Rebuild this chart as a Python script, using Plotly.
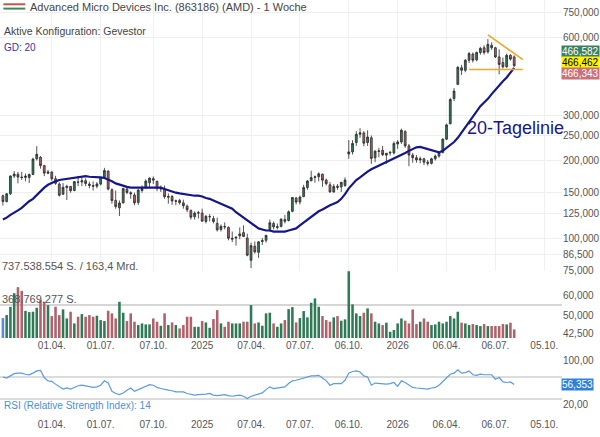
#!/usr/bin/env python3
"""
AMD weekly chart (Gevestor style): candles + 20-week line, volume, RSI
"""

import math
import pandas as pd
import plotly.graph_objects as go

# Daten (Wochenkerzen ab 01.01.2024)
START_WEEK = "2024-01-01"

OPEN = [146.0, 138.6, 148.5, 174.0, 177.0, 172.5, 172.0, 172.0, 176.5, 203.0,
        206.0, 191.0, 178.5, 180.5, 170.0, 162.0, 148.0, 157.0, 158.5, 153.0,
        165.0, 165.0, 167.0, 162.0, 160.0, 159.0, 162.0, 172.0, 182.0, 154.0,
        140.0, 131.0, 137.0, 155.0, 150.0, 147.0, 137.5, 153.0, 157.0, 164.0,
        170.0, 166.0, 155.0, 155.0, 144.0, 145.0, 139.0, 140.0, 137.0, 133.0,
        128.0, 121.0, 125.0, 125.0, 116.0, 121.0, 119.0, 114.0, 108.0, 111.0,
        110.0, 99.0, 100.0, 102.0, 105.0, 100.0, 82.0, 93.0, 88.0, 97.0,
        98.0, 108.0, 114.0, 110.0, 111.0, 118.0, 117.0, 127.0, 143.0, 138.0,
        145.0, 157.0, 167.0, 172.0, 173.0, 177.0, 168.0, 161.0, 151.0, 159.0,
        158.0, 160.0, 212.0, 216.0, 235.0, 253.0, 256.0, 235.0, 245.0, 205.0,
        217.0, 219.0, 210.0, 214.0, 214.0, 232.0, 236.0, 259.0, 228.0, 210.0,
        205.0, 201.0, 203.0, 197.0, 195.0, 203.0, 208.0, 215.0, 242.0, 278.0,
        348.0, 395.0, 458.0, 448.0, 490.0, 518.0, 492.0, 525.0, 548.0, 528.0,
        560.0, 548.0, 505.0, 480.0, 462.0, 512.0, 505.0]
HIGH = [147.5, 149.5, 175.0, 181.9, 180.5, 180.5, 178.0, 178.0, 205.0, 227.3,
        208.0, 192.5, 184.0, 181.5, 174.5, 164.5, 163.5, 161.0, 159.5, 166.5,
        174.0, 172.0, 170.5, 165.5, 166.0, 165.0, 172.5, 187.3, 183.0, 156.0,
        153.0, 140.0, 156.5, 158.0, 152.0, 150.0, 155.0, 160.0, 169.0, 172.0,
        173.5, 167.0, 160.0, 160.0, 149.0, 147.0, 141.0, 142.0, 141.0, 135.0,
        129.0, 127.0, 127.5, 130.0, 123.0, 124.0, 122.0, 120.0, 113.0, 115.0,
        111.0, 106.0, 101.5, 110.0, 112.0, 104.0, 96.0, 97.0, 97.0, 100.0,
        103.0, 118.0, 116.0, 114.0, 119.0, 123.0, 128.0, 144.0, 144.5, 146.0,
        161.0, 168.0, 182.5, 175.0, 180.0, 178.0, 170.0, 165.0, 162.0, 162.0,
        165.0, 172.0, 240.0, 240.0, 260.0, 267.0, 260.0, 262.0, 250.0, 219.0,
        224.0, 228.0, 213.0, 218.0, 237.0, 240.0, 266.0, 262.0, 232.0, 214.0,
        210.0, 207.0, 205.0, 201.0, 205.0, 211.0, 217.0, 244.0, 278.0, 350.0,
        382.0, 465.0, 470.0, 495.0, 528.0, 525.0, 530.0, 552.0, 560.0, 592.0,
        575.0, 552.0, 540.0, 502.0, 520.0, 518.0, 512.0]
LOW = [133.7, 137.5, 147.0, 171.0, 163.0, 168.0, 166.0, 163.5, 175.5, 200.0,
       186.0, 174.0, 177.0, 167.0, 161.0, 145.0, 147.0, 140.5, 150.0, 152.0,
       159.0, 159.0, 159.0, 156.0, 153.0, 156.0, 160.0, 170.0, 153.0, 136.0,
       130.0, 121.8, 136.0, 148.0, 142.0, 134.0, 134.5, 150.0, 155.0, 158.0,
       162.0, 152.0, 151.0, 142.0, 136.0, 134.5, 134.0, 135.0, 130.0, 126.0,
       118.0, 118.0, 119.0, 116.0, 114.0, 116.0, 114.0, 106.0, 106.0, 108.0,
       98.0, 96.5, 93.5, 99.0, 101.0, 85.0, 76.5, 87.0, 83.8, 94.0,
       96.0, 106.0, 108.0, 108.0, 110.0, 114.0, 116.0, 126.0, 135.0, 135.0,
       144.0, 154.0, 166.0, 164.0, 166.0, 158.0, 160.0, 150.0, 150.0, 154.0,
       151.0, 158.0, 203.0, 211.0, 228.0, 245.0, 227.0, 228.0, 194.0, 197.0,
       206.0, 208.0, 194.0, 209.0, 211.0, 222.0, 232.0, 224.0, 190.0, 196.0,
       196.0, 195.0, 192.0, 191.0, 193.0, 200.0, 205.0, 213.0, 240.0, 276.0,
       340.0, 392.0, 430.0, 440.0, 478.0, 480.0, 485.0, 515.0, 515.0, 520.0,
       538.0, 500.0, 432.0, 455.0, 458.0, 488.0, 462.0]
CLOSE = [138.6, 148.5, 174.2, 177.2, 172.5, 171.8, 173.9, 176.5, 202.6, 211.4,
         191.1, 178.7, 180.5, 169.9, 163.1, 146.6, 157.4, 158.7, 152.7, 165.6,
         164.7, 166.9, 162.8, 160.0, 159.0, 162.2, 171.7, 182.8, 155.0, 139.9,
         132.5, 136.8, 155.9, 150.3, 148.6, 137.0, 153.6, 155.7, 166.5, 170.9,
         167.9, 155.9, 155.6, 144.8, 145.0, 139.3, 139.4, 137.2, 133.5, 128.8,
         120.5, 125.0, 125.4, 116.3, 121.5, 121.1, 116.0, 107.6, 111.0, 110.5,
         99.9, 99.7, 100.7, 103.8, 101.5, 85.8, 93.5, 88.4, 96.7, 97.7,
         102.4, 114.7, 110.5, 110.7, 118.5, 116.2, 126.4, 143.8, 137.9, 144.2,
         157.0, 166.5, 171.7, 172.8, 177.5, 167.8, 162.6, 151.1, 158.6, 157.4,
         164.7, 168.0, 216.0, 233.1, 252.9, 256.1, 233.5, 246.8, 203.8, 217.5,
         217.9, 210.8, 213.4, 215.0, 233.0, 236.0, 262.0, 228.0, 210.0, 205.0,
         201.0, 203.0, 197.0, 195.0, 203.0, 208.0, 215.0, 242.0, 275.0, 345.0,
         372.0, 460.0, 448.0, 490.0, 520.0, 490.0, 525.0, 545.0, 525.0, 565.0,
         548.0, 505.0, 472.0, 462.0, 512.0, 495.0, 466.462]

# Volumen in Mio. Stück
VOLUME_M = [220, 253, 344, 495, 561, 520, 300, 286, 290, 334,
            418, 400, 363, 242, 345, 253, 316, 216, 290, 161,
            235, 264, 235, 253, 235, 246, 198, 187, 301, 272,
            216, 400, 279, 187, 272, 180, 143, 161, 150, 150,
            216, 180, 135, 272, 143, 172, 143, 106, 143, 235,
            235, 124, 124, 187, 172, 113, 209, 308, 161, 124,
            180, 161, 161, 161, 180, 180, 363, 161, 172, 135,
            272, 279, 161, 124, 161, 198, 319, 341, 172,
            220, 297, 228, 389, 437, 345, 242, 198, 180, 228,
            242, 191, 206, 737.538554, 371, 272, 242, 279, 327, 272,
            180, 161, 143, 169, 69, 88, 161, 216, 191, 161,
            315, 154, 180, 216, 180, 143, 150, 180, 161, 180,
            242, 216, 290, 169, 161, 143, 154, 143, 132, 154,
            132, 132, 132, 132, 154, 150, 169, 95]

# GD 20
MA20 = [118, 120, 123, 126, 128, 131, 135, 139, 142, 147,
        152, 157, 161, 164, 166, 168, 169, 170, 171, 172,
        173, 174, 174, 173, 173, 172, 172, 171, 169, 166,
        163, 161, 159, 158, 157, 157, 157, 157, 157, 158,
        158, 158, 157, 155, 153, 151, 150, 149, 148, 147,
        147, 146, 146, 145, 143, 142, 140, 138, 136, 134,
        132, 130, 126, 123, 120, 117, 114, 111, 109, 108,
        107, 107, 106, 106, 106, 106, 107, 108, 109, 112,
        115, 118, 121, 124, 127, 129, 132, 134, 136, 138,
        142, 148, 156, 162, 168, 172, 177, 181, 185, 188,
        191, 194, 197, 200, 203, 206, 210, 214, 218, 222,
        225, 226, 224, 221, 219, 217, 215, 218, 224, 230,
        236, 245, 257, 270, 284, 298, 312, 325, 336, 347,
        362, 377, 392, 406, 420, 440, 458]

# RSI 14
RSI14 = [70, 68, 72, 76, 77, 77, 75, 74, 77, 81,
         82, 69, 63, 62, 57, 53, 48, 50, 48, 51,
         54, 55, 54, 52, 51, 52, 55, 63, 59, 44,
         40, 38, 41, 46, 50, 44, 47, 51, 54, 56,
         55, 51, 49, 47, 46, 45, 43, 43, 43, 40,
         38, 37, 38, 38, 39, 40, 37, 36, 37, 38,
         36, 35, 36, 37, 35, 31, 35, 37, 39, 41,
         47, 52, 49, 50, 51, 52, 58, 63, 64, 66,
         68, 70, 72, 72, 73, 68, 63, 55, 58, 58,
         58, 64, 77, 80, 81, 79, 72, 70, 55, 59,
         58, 57, 57, 58, 60, 53, 63, 60, 55, 51,
         50, 49, 48, 48, 50, 51, 55, 62, 68, 75,
         77, 83, 77, 78, 81, 74, 73, 75, 74, 74,
         74, 66, 69, 61, 60, 61, 56.353]

# Trendlinien (Zeichnungen)
TRI_UPPER_X = ["2026-06-22", "2026-08-26"]
TRI_UPPER_Y = [615, 493]
TRI_LOWER_X = ["2026-05-18", "2026-08-26"]
TRI_LOWER_Y = [451, 451]

ASK, LAST, BID = 466.582, 466.462, 466.343
RSI_BANDS = [30, 70]

PRICE_TICKS = [75, 86.5, 100, 125, 150, 200, 250, 300, 600, 750]
VOL_SIDE_TICKS = [42.5, 50, 60]
X_TICKS = ["2024-04-01", "2024-07-01", "2024-10-07", "2025-01-06", "2025-04-07",
           "2025-07-07", "2025-10-06", "2026-01-05", "2026-04-06", "2026-07-06",
           "2026-10-05"]
X_LABELS = ["01.04.", "01.07.", "07.10.", "2025", "07.04.", "07.07.", "06.10.",
            "2026", "06.04.", "06.07.", "05.10."]

FONT = "Liberation Sans, Arial, sans-serif"
GREEN = "#2f7a56"
RED = "#b0616a"
NAVY = "#16168c"

dates = pd.date_range(START_WEEK, periods=len(CLOSE), freq="7D")
x_range = ["2023-12-26 14:00", "2026-11-07"]

def de(v, nd):
    return f"{v:,.{nd}f}".replace(",", "X").replace(".", ",").replace("X", ".")

vol_colors = ["#5b8ad6"] + [GREEN if c >= o else RED for o, c in zip(OPEN[1:], CLOSE[1:])]

fig = go.Figure()

fig.add_trace(go.Candlestick(
    x=dates, open=OPEN, high=HIGH, low=LOW, close=CLOSE,
    increasing=dict(fillcolor=GREEN, line=dict(color="#2a2a2a", width=0.8)),
    decreasing=dict(fillcolor=RED, line=dict(color="#2a2a2a", width=0.8)),
    whiskerwidth=0, xaxis="x", yaxis="y", hoverinfo="skip"
))
fig.add_trace(go.Scatter(
    x=dates, y=MA20, mode="lines", line=dict(color=NAVY, width=2.2),
    xaxis="x", yaxis="y", hoverinfo="skip"
))
for tx, ty in [(TRI_UPPER_X, TRI_UPPER_Y), (TRI_LOWER_X, TRI_LOWER_Y)]:
    fig.add_trace(go.Scatter(
        x=tx, y=ty, mode="lines", line=dict(color="#f5a42a", width=1.6),
        xaxis="x", yaxis="y", hoverinfo="skip"
    ))

# Volumen
fig.add_trace(go.Bar(
    x=dates, y=[v * 1e6 for v in VOLUME_M], marker=dict(color=vol_colors, line=dict(width=0)),
    width=7 * 0.68 * 86400000, xaxis="x2", yaxis="y2", hoverinfo="skip"
))
# unsichtbarer Träger für die Preisachse im Volumenbereich
fig.add_trace(go.Scatter(
    x=[dates[0]], y=[VOL_SIDE_TICKS[1]], mode="markers", marker=dict(opacity=0),
    xaxis="x2", yaxis="y3", hoverinfo="skip"
))

# RSI
fig.add_trace(go.Scatter(
    x=dates, y=RSI14, mode="lines", line=dict(color="#5b9be0", width=1.2),
    xaxis="x3", yaxis="y4", hoverinfo="skip"
))

H = 417.0  # Plotfläche in px
def fy(px):
    return (H - px) / H

vmax = max(VOLUME_M) * 1e6
axis_font = dict(size=10, color="#555555", family=FONT)
xcommon = dict(type="date", range=x_range, tickvals=X_TICKS, ticktext=X_LABELS,
               ticks="", showline=False, zeroline=False, tickfont=axis_font)

shapes = [dict(type="line", xref="x3 domain", x0=0, x1=1, yref="y4", y0=b, y1=b,
               line=dict(color="#d0d0d0", width=1.5), layer="below") for b in RSI_BANDS]
# Symbol vor dem Titel
shapes += [
    dict(type="line", xref="paper", yref="paper", x0=0.006, x1=0.045, y0=fy(4.3), y1=fy(4.3),
         line=dict(color="#c9504f", width=2)),
    dict(type="line", xref="paper", yref="paper", x0=0.006, x1=0.045, y0=fy(8.6), y1=fy(8.6),
         line=dict(color="#3a8a5c", width=2)),
]

annotations = [
    dict(text="Advanced Micro Devices Inc. (863186) (AMD) - 1 Woche", xref="paper", yref="paper",
         x=0.05, y=fy(7), xanchor="left", yanchor="middle", showarrow=False,
         font=dict(size=11, color="#444444", family=FONT)),
    dict(text="Aktive Konfiguration: Gevestor", xref="paper", yref="paper",
         x=0.004, y=fy(31), xanchor="left", yanchor="middle", showarrow=False,
         font=dict(size=10.5, color="#444444", family=FONT)),
    dict(text="GD: 20", xref="paper", yref="paper",
         x=0.004, y=fy(48), xanchor="left", yanchor="middle", showarrow=False,
         font=dict(size=10, color="#3434a8", family=FONT)),
    dict(text="20-Tagelinie", xref="paper", yref="paper",
         x=0.828, y=fy(128), xanchor="left", yanchor="middle", showarrow=False,
         font=dict(size=18, color=NAVY, family=FONT)),
    dict(text=f"{de(vmax, 0)} S. / 163,4 Mrd.", xref="paper", yref="paper",
         x=0.0, y=fy(266), xanchor="left", yanchor="middle", showarrow=False,
         font=dict(size=11, color="#555555", family=FONT)),
    dict(text=f"{de(vmax / 2, 0)} S.", xref="paper", yref="paper",
         x=0.0, y=fy(299), xanchor="left", yanchor="middle", showarrow=False,
         font=dict(size=11, color="#555555", family=FONT)),
    dict(text="RSI (Relative Strength Index): 14", xref="paper", yref="paper",
         x=0.004, y=fy(405), xanchor="left", yanchor="middle", showarrow=False,
         font=dict(size=10, color="#4a8fdc", family=FONT)),
]
for val, bg, fg, shift in [(ASK, "#3b8060", "white", 14), (LAST, "#fff200", "black", 3),
                           (BID, "#c9707a", "white", -8)]:
    annotations.append(dict(
        text=de(val, 3), xref="paper", yref="y", x=1.0, y=math.log10(LAST), yshift=shift,
        xanchor="left", yanchor="middle", xshift=-1, showarrow=False, bgcolor=bg,
        borderpad=0, font=dict(size=10, color=fg, family=FONT)))
annotations.append(dict(
    text=de(RSI14[-1], 3), xref="paper", yref="y4", x=1.0, y=RSI14[-1], xanchor="left",
    yanchor="middle", xshift=-1, showarrow=False, bgcolor="#2f80d8", borderpad=0,
    font=dict(size=10, color="white", family=FONT)))

price_lo, price_hi = 74.5, 839.6
px_per_dec = 271 / (math.log10(price_hi) - math.log10(price_lo))
vol_side_lo = price_lo / 10 ** (67 / px_per_dec)

fig.update_layout(
    width=600, height=437,
    margin=dict(l=0, r=35, t=0, b=20),
    paper_bgcolor="white", plot_bgcolor="white",
    separators=",.",
    showlegend=False,
    font=dict(family=FONT, color="#555555"),
    xaxis=dict(xcommon, domain=[0, 1], anchor="y", showticklabels=False,
               showgrid=True, gridcolor="#f0f0f0", gridwidth=1,
               rangeslider=dict(visible=False)),
    yaxis=dict(domain=[fy(271), 1], anchor="x", side="right", type="log",
               range=[math.log10(price_lo), math.log10(price_hi)],
               tickvals=PRICE_TICKS, tickformat=".3f", ticks="", tickfont=axis_font,
               showgrid=True, gridcolor="#eeeeee", zeroline=False, showline=False),
    xaxis2=dict(xcommon, domain=[0, 1], anchor="y2", showgrid=False),
    yaxis2=dict(domain=[fy(338), fy(271)], anchor="x2", range=[0, vmax * 1.003],
                tickvals=[vmax / 2, vmax], showticklabels=False, ticks="",
                showgrid=True, gridcolor="#d6d6d6", gridwidth=1.5, zeroline=False),
    yaxis3=dict(overlaying="y2", anchor="x2", side="right", type="log",
                range=[math.log10(vol_side_lo), math.log10(price_lo)],
                tickvals=VOL_SIDE_TICKS, tickformat=".3f", ticks="", tickfont=axis_font,
                showgrid=False, zeroline=False),
    xaxis3=dict(xcommon, domain=[0, 1], anchor="y4", showgrid=False),
    yaxis4=dict(domain=[0, fy(350)], anchor="x3", side="right", range=[-2.7, 119],
                tickvals=[20, 100], tickformat=".2f", ticks="", tickfont=axis_font,
                showgrid=False, zeroline=False),
    shapes=shapes,
    annotations=annotations,
)

fig.write_html("out.html", config={"displayModeBar": False},
               post_script="document.body.style.margin='0';")
